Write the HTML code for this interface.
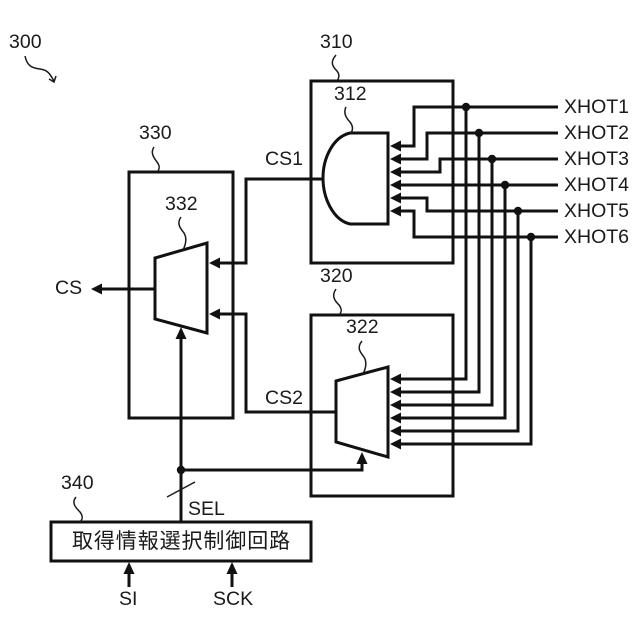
<!DOCTYPE html>
<html><head><meta charset="utf-8"><style>
html,body{margin:0;padding:0;background:#fff}
svg{display:block}
text{font-family:"Liberation Sans","Noto Sans CJK JP",sans-serif;font-size:19.5px;fill:#1a1a1a}
.w{fill:none;stroke:#111;stroke-width:3}
.t{fill:none;stroke:#1a1a1a;stroke-width:1.5}
.a{fill:#111;stroke:none}
</style></head><body>
<svg width="640" height="640" viewBox="0 0 640 640" xmlns="http://www.w3.org/2000/svg">
<rect width="640" height="640" fill="#fff"/>
<!-- boxes -->
<rect class="w" x="311" y="81" width="142" height="182"/>
<rect class="w" x="311" y="315" width="142" height="181"/>
<rect class="w" x="129" y="172" width="104" height="246"/>
<rect class="w" x="51" y="522" width="260" height="39"/>
<!-- gates -->
<path class="w" d="M350 133H388V224H350C333 220 323 198 323 178C323 158 333 137 350 133Z"/>
<path class="w" d="M336 381L388 367V457L336 442Z"/>
<path class="w" d="M155 258L207 243V333L155 319Z"/>
<!-- xhot wires -->
<path class="w" d="M558 107H414V146H396"/>
<path class="w" d="M558 133H427V159H396"/>
<path class="w" d="M558 159H440V172H396"/>
<path class="w" d="M558 185H396"/>
<path class="w" d="M558 211H427V198H396"/>
<path class="w" d="M558 237H414V211H396"/>
<path class="w" d="M466 107V379H396"/>
<path class="w" d="M479 133V392H396"/>
<path class="w" d="M492 159V405H396"/>
<path class="w" d="M505 185V418H396"/>
<path class="w" d="M518 211V431H396"/>
<path class="w" d="M531 237V444H396"/>
<g class="a">
<circle cx="466" cy="107" r="4.2"/><circle cx="479" cy="133" r="4.2"/><circle cx="492" cy="159" r="4.2"/>
<circle cx="505" cy="185" r="4.2"/><circle cx="518" cy="211" r="4.2"/><circle cx="531" cy="237" r="4.2"/>
<circle cx="181" cy="470" r="4.2"/>
<path d="M390 146l11-5.5v11z"/><path d="M390 159l11-5.5v11z"/><path d="M390 172l11-5.5v11z"/>
<path d="M390 185l11-5.5v11z"/><path d="M390 198l11-5.5v11z"/><path d="M390 211l11-5.5v11z"/>
<path d="M390 379l11-5.5v11z"/><path d="M390 392l11-5.5v11z"/><path d="M390 405l11-5.5v11z"/>
<path d="M390 418l11-5.5v11z"/><path d="M390 431l11-5.5v11z"/><path d="M390 444l11-5.5v11z"/>
<path d="M209 263l11-5.5v11z"/><path d="M209 314l11-5.5v11z"/>
<path d="M91 289l11-5.5v11z"/>
<path d="M181 327l-5.5 12h11z"/>
<path d="M362 452l-5.5 12h11z"/>
<path d="M129 562l-5.5 12h11z"/>
<path d="M232 562l-5.5 12h11z"/>
</g>
<!-- other wires -->
<path class="w" d="M323 179H246V263H215"/>
<path class="w" d="M336 412H246V314H215"/>
<path class="w" d="M155 289H97"/>
<path class="w" d="M181 522V334"/>
<path class="w" d="M181 470H362V459"/>
<path class="w" d="M129 587V570"/>
<path class="w" d="M232 587V570"/>
<path class="t" d="M167 497L195 482"/>
<!-- leaders -->
<path class="t" d="M25 56C27 66 32 68 40 69C48 70 50 74 54 81M49 79L54 82L56 76"/>
<path class="t" d="M336 55C330 62 332 66 337 71C340 75 339 78 337 81"/>
<path class="t" d="M346 107C343 113 346 118 350 122C353 126 353 130 351 133"/>
<path class="t" d="M154 147C150 153 154 158 157 162C160 166 160 169 157 172"/>
<path class="t" d="M181 217C176 224 181 229 184 233C187 238 186 244 183 250"/>
<path class="t" d="M336 289C331 296 335 301 339 305C342 309 342 312 339 315"/>
<path class="t" d="M362 341C356 348 361 353 364 357C367 362 366 368 363 374"/>
<path class="t" d="M76 497C71 503 76 508 80 512C83 516 83 519 80 522"/>
<!-- labels -->
<text x="9" y="48">300</text>
<text x="320" y="48">310</text>
<text x="334" y="100">312</text>
<text x="139" y="139">330</text>
<text x="165" y="210">332</text>
<text x="320" y="282">320</text>
<text x="346" y="333">322</text>
<text x="61" y="489">340</text>
<text x="265" y="165">CS1</text>
<text x="265" y="404">CS2</text>
<text x="55" y="294">CS</text>
<text x="188" y="515">SEL</text>
<text x="119" y="605">SI</text>
<text x="213" y="605">SCK</text>
<text x="564" y="113">XHOT1</text>
<text x="564" y="139">XHOT2</text>
<text x="564" y="165">XHOT3</text>
<text x="564" y="191">XHOT4</text>
<text x="564" y="217">XHOT5</text>
<text x="564" y="243">XHOT6</text>
<text x="72" y="548" style="font-size:21px;letter-spacing:.9px">取得情報選択制御回路</text>
</svg>
</body></html>
